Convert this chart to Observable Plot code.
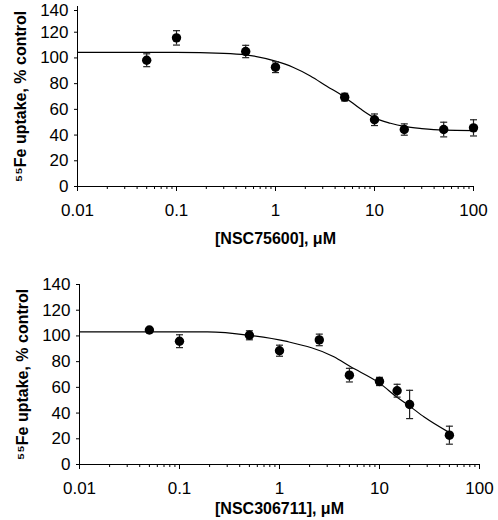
<!DOCTYPE html>
<html>
<head>
<meta charset="utf-8">
<script src="https://cdn.jsdelivr.net/npm/d3@7"></script>
<script src="https://cdn.jsdelivr.net/npm/@observablehq/plot@0.6"></script>
<style>
  html, body { margin: 0; padding: 0; background: #fff; }
  #wrap { position: relative; width: 498px; height: 520px; font-family: "Liberation Sans", Arial, sans-serif; color: #000; }
  .panel { position: absolute; left: 0; }
</style>
</head>
<body>
<div id="wrap"></div>
<script>
// ---- Data ----
// Panel A: NSC75600
const xTop = [0.05, 0.1, 0.5, 1, 5, 10, 20, 50, 100];
const yTop = [98.2, 115.6, 105, 92.8, 69.5, 51.9, 44.3, 44.3, 45.6];
const eTop = [5, 5.6, 4.8, 4.2, 3, 4.5, 4.4, 5.7, 6.3];
const curveXTop = [0.01, 0.1, 0.3, 0.5, 1, 1.5, 2.25, 3.3, 5, 7.2, 10, 14.5, 20, 30, 50, 100];
const curveYTop = [104.3, 104.3, 103.6, 102.4, 97.5, 92.8, 86, 78, 69.5, 60.4, 53.4, 49.2, 46.7, 45, 43.8, 43.5];

// Panel B: NSC306711
const xBot = [0.05, 0.1, 0.5, 1, 2.5, 5, 10, 15, 20, 50];
const yBot = [104.6, 95.9, 100.5, 88.5, 96.9, 69.5, 64.6, 57.4, 46.7, 22.8];
const eBot = [1.2, 5, 3.5, 4.3, 4.5, 5.3, 3.2, 5, 11, 7];
const curveXBot = [0.01, 0.19, 0.5, 1.15, 3.5, 5.1, 10, 15, 20, 28, 50];
const curveYBot = [103.1, 103.1, 100.5, 95.9, 83.8, 76.2, 63.3, 52.3, 45.4, 36.9, 24.8];

// Axes
const xMajorTicks = [0.01, 0.1, 1, 10, 100];
const xTickLabels = ["0.01", "0.1", "1", "10", "100"];
const yTicks = [0, 20, 40, 60, 80, 100, 120, 140];
const xTitleTop = "[NSC75600], μM";
const xTitleBot = "[NSC306711], μM";
const yTitle = "⁵⁵Fe uptake, % control";

// minor ticks 2..9 per decade
const xMinorTicks = [];
for (const d of [0.01, 0.1, 1, 10]) for (let k = 2; k <= 9; k++) xMinorTicks.push(+(d * k).toPrecision(3));

const capSymbol = {
  draw(ctx, size) {
    const w = Math.sqrt(size / Math.PI);
    ctx.moveTo(-w, 0);
    ctx.lineTo(w, 0);
  }
};

function panel({xs, ys, es, cx, cy, xTitle, titleDy, topLabelDy, mTop, mBottom, mLeft, mRight, height, curve}) {
  const pts = xs.map((x, i) => ({x, y: ys[i], e: es[i]}));
  const line = cx.map((x, i) => ({x, y: cy[i]}));
  const yMax = yTicks[yTicks.length - 1];
  return Plot.plot({
    width: 498,
    height,
    marginTop: mTop,
    marginBottom: mBottom,
    marginLeft: mLeft,
    marginRight: mRight,
    style: {fontFamily: "'Liberation Sans', Arial, sans-serif", fontSize: "17px", color: "#000", background: "transparent", overflow: "visible"},
    x: {type: "log", domain: [0.01, 100], axis: null},
    y: {domain: [0, 140], axis: null},
    marks: [
      Plot.axisY({ticks: yTicks.slice(0, -1), tickSize: 3, tickPadding: 6, label: null, fontSize: 17, stroke: "#000"}),
      Plot.axisY({ticks: [yMax], tickSize: 3, tickPadding: 6, label: null, fontSize: 17, stroke: "#000", dy: topLabelDy}),
      Plot.axisX({ticks: xMinorTicks, tickSize: 3, tickFormat: () => "", label: null, stroke: "#000"}),
      Plot.axisX({ticks: xMajorTicks, tickSize: 5, tickPadding: 12, label: null, fontSize: 17, stroke: "#000",
        tickFormat: (d) => xTickLabels[xMajorTicks.indexOf(d)]}),
      Plot.ruleX([0.01], {stroke: "#000", strokeWidth: 1}),
      Plot.ruleY([0], {stroke: "#000", strokeWidth: 1}),
      Plot.line(line, {x: "x", y: "y", curve, stroke: "#000", strokeWidth: 1.2}),
      Plot.ruleX(pts, {x: "x", y1: (d) => d.y - d.e, y2: (d) => d.y + d.e, stroke: "#222", strokeWidth: 1.2}),
      Plot.dot(pts, {x: "x", y: (d) => d.y + d.e, symbol: capSymbol, r: 3.5, stroke: "#222", strokeWidth: 1.2, fill: "none"}),
      Plot.dot(pts, {x: "x", y: (d) => d.y - d.e, symbol: capSymbol, r: 3.5, stroke: "#222", strokeWidth: 1.2, fill: "none"}),
      Plot.dot(pts, {x: "x", y: "y", r: 4.7, fill: "#000", stroke: "none"}),
      Plot.text([xTitle], {text: (d) => d, frameAnchor: "bottom", dy: titleDy, fontWeight: "bold", fontSize: 16, lineAnchor: "middle", textAnchor: "middle", fill: "#000"}),
      Plot.text([yTitle], {text: (d) => d, frameAnchor: "left", rotate: -90, dx: -57, fontWeight: "bold", fontSize: 16, lineAnchor: "middle", textAnchor: "middle", fill: "#000"})
    ]
  });
}

const wrap = document.getElementById("wrap");

const chartTop = panel({xs: xTop, ys: yTop, es: eTop, cx: curveXTop, cy: curveYTop, xTitle: xTitleTop, titleDy: 52, topLabelDy: 4,
  mTop: 6, mBottom: 74, mLeft: 77, mRight: 25, height: 260, curve: "monotone-x"});
chartTop.classList.add("panel");
chartTop.style.top = "0px";
wrap.appendChild(chartTop);

const chartBot = panel({xs: xBot, ys: yBot, es: eBot, cx: curveXBot, cy: curveYBot, xTitle: xTitleBot, titleDy: 44, topLabelDy: 0,
  mTop: 24, mBottom: 56, mLeft: 79, mRight: 19, height: 260, curve: "monotone-x"});
chartBot.classList.add("panel");
chartBot.style.top = "260px";
wrap.appendChild(chartBot);
</script>
</body>
</html>
